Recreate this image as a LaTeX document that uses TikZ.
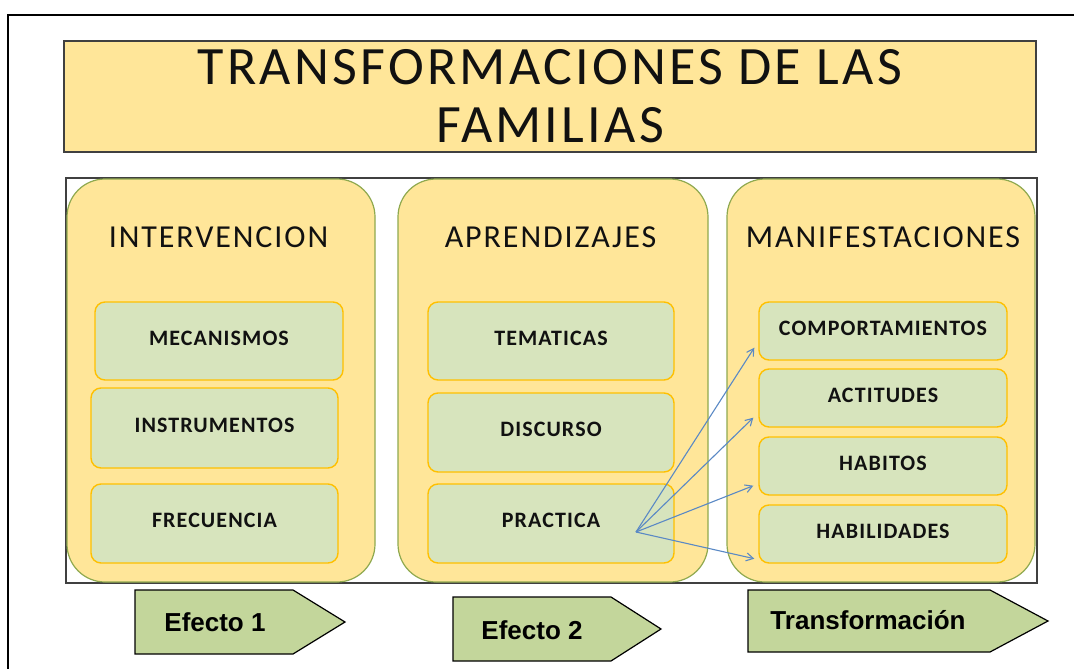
\documentclass[tikz,border=0pt]{standalone}
\usepackage{fontspec}
\setmainfont{Carlito}
\newfontfamily\titlefont[LetterSpace=6]{Carlito}
\newfontfamily\hdrfont[LetterSpace=6]{Carlito}
\newfontfamily\boxfont[LetterSpace=5]{Carlito}
\newfontfamily\arrfont{Liberation Sans}
\usetikzlibrary{arrows.meta,calc}
\definecolor{paleyellow}{HTML}{FFE699}
\definecolor{olivebd}{HTML}{8FA94F}
\definecolor{palegreen}{HTML}{D7E4BD}
\definecolor{goldbd}{HTML}{FFC000}
\definecolor{arrgreen}{HTML}{C3D69B}
\definecolor{arrblue}{HTML}{5A89C5}
\definecolor{txtdark}{HTML}{111111}
\tikzset{
  titlebox/.style={draw=black!75, line width=1.3pt, fill=paleyellow, minimum width=972pt, minimum height=111pt, inner sep=0pt, align=center, text=txtdark, font=\titlefont\fontsize{54}{58}\selectfont},
  colbox/.style={draw=olivebd, line width=1.2pt, fill=paleyellow, rounded corners=38pt, minimum height=403pt, inner sep=0pt},
  hdr/.style={anchor=base, text=txtdark, font=\hdrfont\fontsize{32}{34}\selectfont},
  itembox/.style={draw=goldbd, line width=1.4pt, fill=palegreen, rounded corners=10pt, inner sep=0pt, text depth=6pt, text=txtdark, font=\boxfont\bfseries\fontsize{22}{24}\selectfont},
  pent/.style={draw=black, line width=1.2pt, fill=arrgreen},
  pentlabel/.style={text=black, font=\arrfont\bfseries\fontsize{26}{28}\selectfont},
  link/.style={draw=arrblue, line width=1.1pt, -{Straight Barb[length=7pt,width=8pt]}},
}
\begin{document}
\begin{tikzpicture}[x=1pt,y=-1pt]
\useasboundingbox (0,0) rectangle (1074,669);
% outer frame
\draw[line width=2pt] (8,669) -- (8,15) -- (1074,15);
% title
\node[titlebox] (title) at (550,96.5) {TRANSFORMACIONES DE LAS\\FAMILIAS};
% frame around columns
\node[draw=black!75, line width=1.2pt, fill=white, minimum width=971pt, minimum height=405pt, inner sep=0pt] (frame) at (551.5,380.5) {};
% columns
\node[colbox, minimum width=308pt] (c1) at (221,380.5) {};
\node[colbox, minimum width=310pt] (c2) at (553,380.5) {};
\node[colbox, minimum width=308pt] (c3) at (881,380.5) {};
\node[hdr] (h1) at (218.5,247) {INTERVENCION};
\node[hdr] (h2) at (550.5,247) {APRENDIZAJES};
\node[hdr] (h3) at (883,247) {MANIFESTACIONES};
% column 1 items
\node[itembox, minimum width=248pt, minimum height=78pt] (mec) at (219,341) {MECANISMOS};
\node[itembox, minimum width=247pt, minimum height=80pt] (ins) at (214.5,428) {INSTRUMENTOS};
\node[itembox, minimum width=247pt, minimum height=79pt] (fre) at (214.5,523.5) {FRECUENCIA};
% column 2 items
\node[itembox, minimum width=246pt, minimum height=78pt] (tem) at (551,341) {TEMATICAS};
\node[itembox, minimum width=246pt, minimum height=79pt] (dis) at (551,432.5) {DISCURSO};
\node[itembox, minimum width=246pt, minimum height=79pt] (pra) at (551,523.5) {PRACTICA};
% column 3 items
\node[itembox, minimum width=248pt, minimum height=58pt] (com) at (883,331) {COMPORTAMIENTOS};
\node[itembox, minimum width=248pt, minimum height=58pt] (act) at (883,398) {ACTITUDES};
\node[itembox, minimum width=248pt, minimum height=58pt] (hab) at (883,466) {HABITOS};
\node[itembox, minimum width=248pt, minimum height=58pt] (hbl) at (883,534) {HABILIDADES};
% arrows
\coordinate (src) at (636,532);
\draw[link] (src) -- ($(com.south west)+(-4,-13)$);
\draw[link] (src) -- ($(act.south west)+(-5,-10)$);
\draw[link] (src) -- ($(hab.south west)+(-5,-10)$);
\draw[link] (src) -- ($(hbl.south west)+(-4,-5)$);
% bottom pentagon arrows
\draw[pent] (135,590) -- (293,590) -- (345,622) -- (293,654) -- (135,654) -- cycle;
\node[pentlabel] (e1) at (215,622) {Efecto 1};
\draw[pent] (453,597) -- (611,597) -- (661,629) -- (611,661) -- (453,661) -- cycle;
\node[pentlabel] (e2) at (532,630) {Efecto 2};
\draw[pent] (748,590) -- (990,590) -- (1048,621) -- (990,652) -- (748,652) -- cycle;
\node[pentlabel] (e3) at (868,620) {Transformación};
\end{tikzpicture}
\end{document}
